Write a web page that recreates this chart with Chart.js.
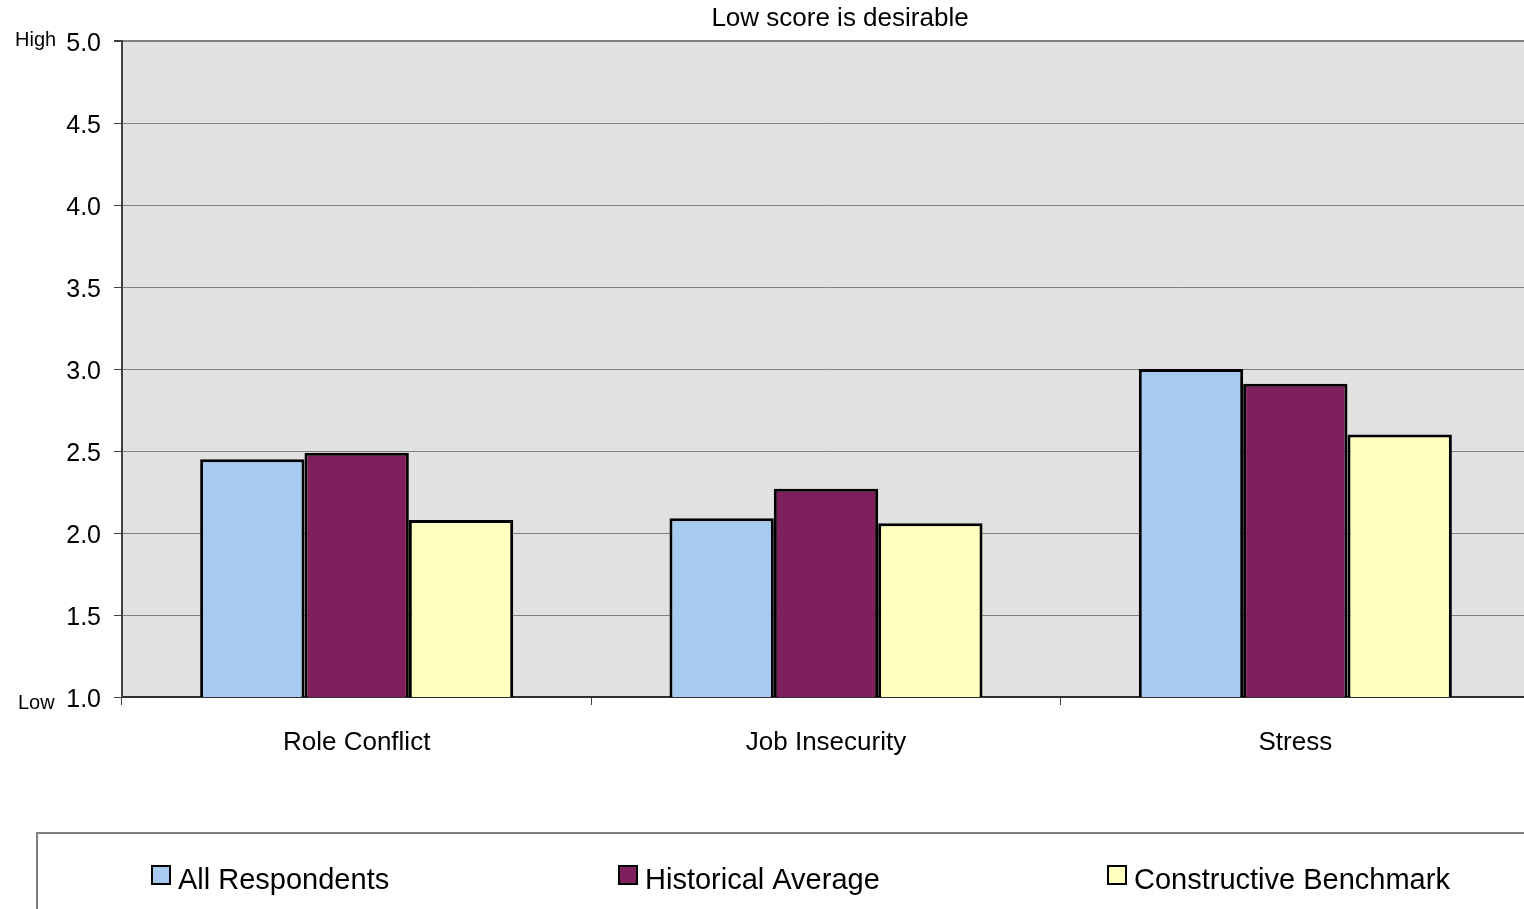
<!DOCTYPE html>
<html>
<head>
<meta charset="utf-8">
<script src="https://cdn.jsdelivr.net/npm/chart.js@4"></script>
<style>
  html, body { margin: 0; padding: 0; background: #fff; overflow: hidden; }
  #wrap { width: 1532px; height: 909px; position: relative; }
</style>
</head>
<body>
<div id="wrap"><canvas id="grafica"></canvas></div>
<script>
var categorias = ['Role Conflict', 'Job Insecurity', 'Stress'];
var allRespondents = [2.45, 2.09, 3.00];
var historicalAverage = [2.49, 2.27, 2.91];
var constructiveBenchmark = [2.08, 2.06, 2.60];
var yMin = 1.0, yMax = 5.0, yStep = 0.5;
var tituloTexto = 'Low score is desirable';

var fuente = '"Liberation Sans", Arial, sans-serif';

// fondo gris del area de trazado, titulo y etiquetas High/Low
var fondoPlot = {
    id: 'fondoPlot',
    beforeDraw: function (chart) {
        var a = chart.chartArea, ctx = chart.ctx;
        ctx.save();
        ctx.fillStyle = '#e1e1e1';
        ctx.fillRect(a.left, a.top, a.right - a.left, a.bottom - a.top);
        ctx.restore();
    },
    afterDraw: function (chart) {
        var ctx = chart.ctx;
        var y = chart.scales.y;
        ctx.save();
        ctx.fillStyle = '#000';
        ctx.font = '26px ' + fuente;
        ctx.textAlign = 'center';
        ctx.textBaseline = 'middle';
        ctx.fillText(tituloTexto, 840, 19);
        ctx.font = '20px ' + fuente;
        ctx.textAlign = 'left';
        ctx.fillText('High', 15, y.getPixelForValue(yMax) - 1);
        ctx.fillText('Low', 18, y.getPixelForValue(yMin) + 6);
        ctx.restore();
    }
};

// leyenda con marco, dibujada a mano
var leyenda = {
    id: 'leyenda',
    afterDraw: function (chart) {
        var ctx = chart.ctx;
        var xs = [152, 619, 1108];
        ctx.save();
        ctx.strokeStyle = '#808080';
        ctx.lineWidth = 2;
        ctx.beginPath();
        ctx.moveTo(37, 920);
        ctx.lineTo(37, 833);
        ctx.lineTo(chart.width + 5, 833);
        ctx.stroke();
        ctx.font = '29px ' + fuente;
        ctx.textBaseline = 'middle';
        ctx.textAlign = 'left';
        chart.data.datasets.forEach(function (ds, i) {
            ctx.fillStyle = ds.backgroundColor;
            ctx.fillRect(xs[i], 866, 18, 18);
            ctx.strokeStyle = '#000';
            ctx.lineWidth = 2;
            ctx.strokeRect(xs[i], 866, 18, 18);
            ctx.fillStyle = '#000';
            ctx.fillText(ds.label, xs[i] + 26, 881);
        });
        ctx.restore();
    }
};

var ctx = document.getElementById('grafica').getContext('2d');
var grafica = new Chart(ctx, {
    type: 'bar',
    data: {
        labels: categorias,
        datasets: [{
            label: 'All Respondents',
            data: allRespondents,
            backgroundColor: '#a6caf0'
        }, {
            label: 'Historical Average',
            data: historicalAverage,
            backgroundColor: '#7f1f5e'
        }, {
            label: 'Constructive Benchmark',
            data: constructiveBenchmark,
            backgroundColor: '#ffffc0'
        }]
    },
    options: {
        responsive: true,
        maintainAspectRatio: false,
        animation: false,
        layout: { padding: { top: 41, right: 2, left: 0, bottom: 0 } },
        datasets: {
            bar: {
                borderColor: '#000',
                borderWidth: 3,
                borderSkipped: false,
                categoryPercentage: 0.667,
                barPercentage: 1.0
            }
        },
        plugins: {
            legend: { display: false },
            tooltip: { enabled: false }
        },
        scales: {
            x: {
                grid: {
                    offset: true,
                    drawOnChartArea: false,
                    tickLength: 8,
                    color: '#404040'
                },
                border: { color: '#303030', width: 2 },
                ticks: {
                    color: '#000',
                    font: { family: fuente, size: 26 },
                    padding: 22
                },
                afterFit: function (scale) { scale.height = 212; }
            },
            y: {
                min: yMin,
                max: yMax,
                grid: {
                    color: '#808080',
                    tickColor: '#404040',
                    tickLength: 8,
                    lineWidth: function (c) { return c.tick && c.tick.value === yMax ? 2 : 1; }
                },
                border: { color: '#404040', width: 2 },
                ticks: {
                    stepSize: yStep,
                    color: '#000',
                    font: { family: fuente, size: 25 },
                    padding: 13,
                    labelOffset: 3,
                    callback: function (v) { return Number(v).toFixed(1); }
                },
                afterFit: function (scale) { scale.width = 122; }
            }
        }
    },
    plugins: [fondoPlot, leyenda]
});
</script>
</body>
</html>
